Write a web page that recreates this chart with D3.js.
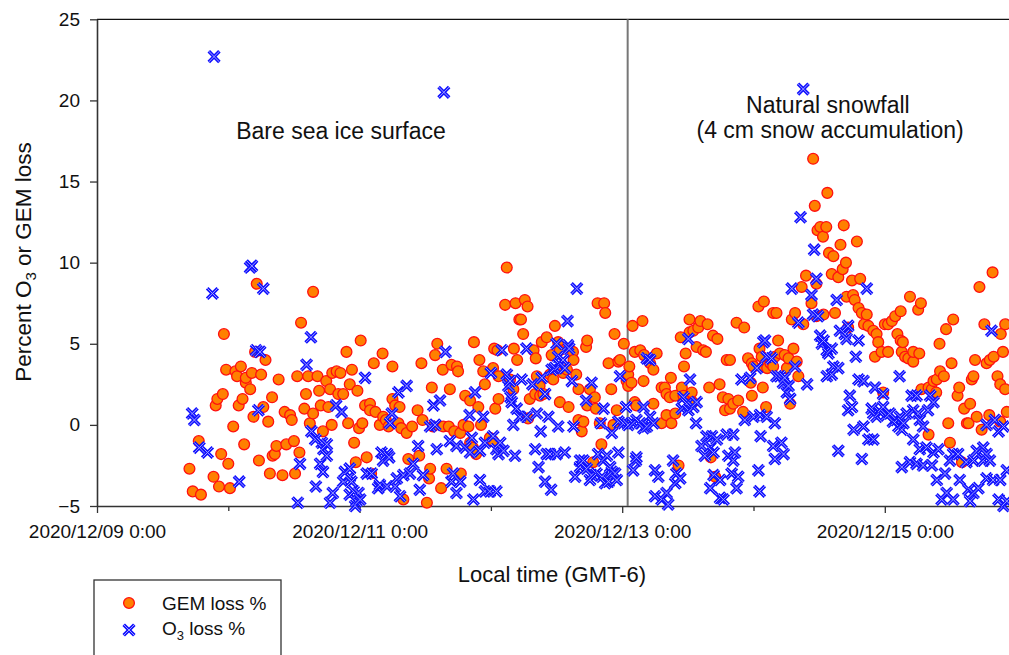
<!DOCTYPE html>
<html>
<head>
<meta charset="utf-8">
<script src="https://cdn.jsdelivr.net/npm/d3@7"></script>
<style>
  body { margin: 0; background: #fff; }
  svg { display: block; font-family: "Liberation Sans", Arial, sans-serif; }
</style>
</head>
<body>
<svg id="chart" width="1009" height="655"></svg>
<script>
// hours since 2020/12/09 0:00, percent loss
const gemLoss = [
  [16.9,-2.7],[17.5,-4.1],[18.6,-1.0],[19.0,-4.3],[21.3,-3.2],[21.7,1.2],[22.0,1.6],[22.3,-3.8],[22.7,-1.8],[23.0,1.9],
  [23.2,5.6],[23.6,3.4],[24.0,-2.4],[24.3,-3.9],[24.9,-0.1],[25.3,3.3],[25.6,3.0],[25.9,1.2],[26.3,3.6],[26.6,1.6],
  [26.9,-1.2],[27.2,2.6],[27.2,2.9],[28.0,2.2],[28.3,3.2],[28.6,0.5],[28.9,4.5],[29.2,8.7],[29.6,-2.2],[30.0,3.1],
  [30.4,1.1],[30.8,4.0],[31.3,0.2],[31.6,-3.0],[32.0,1.7],[32.1,-1.9],[32.5,-1.8],[32.8,-1.3],[33.2,2.8],[33.9,-3.1],
  [34.3,0.8],[34.6,-1.2],[35.3,0.6],[35.6,0.3],[36.0,-1.0],[36.2,-3.0],[36.6,3.0],[37.0,-1.7],[37.3,6.3],[37.9,1.0],
  [38.2,1.9],[38.6,3.0],[38.9,0.1],[39.5,0.7],[39.5,8.2],[40.3,3.0],[40.6,2.1],[40.9,1.2],[41.3,-0.4],[41.9,2.7],
  [42.3,1.1],[42.6,2.2],[42.9,0.0],[43.0,3.2],[43.8,3.3],[44.1,1.9],[44.5,3.2],[45.0,1.9],[45.6,4.5],[45.9,0.1],
  [46.2,2.5],[46.6,3.4],[47.0,-1.1],[47.3,-2.3],[47.6,2.1],[47.9,-0.2],[48.2,5.2],[48.5,0.1],[49.0,1.2],[49.3,-2.0],
  [49.9,1.3],[49.9,0.9],[50.1,-3.0],[50.6,3.8],[50.9,0.8],[51.7,0.0],[52.2,4.4],[52.3,0.5],[52.8,0.3],[53.3,-0.1],
  [54.0,3.6],[54.0,1.6],[54.5,1.2],[55.1,0.1],[55.3,1.1],[55.6,-0.2],[56.0,-4.6],[56.6,-0.5],[56.9,-2.1],[57.6,-0.1],
  [58.6,0.9],[58.9,-1.9],[59.3,3.8],[59.5,0.3],[60.3,-4.8],[60.7,-3.3],[60.9,-2.7],[61.2,2.3],[61.4,-0.1],[61.8,4.3],
  [62.2,5.0],[62.9,-3.9],[63.2,3.4],[63.3,-0.1],[63.9,-2.7],[64.3,-0.1],[64.5,2.2],[64.8,3.7],[65.3,-0.4],[65.8,3.6],
  [66.0,3.3],[66.4,-0.5],[66.5,-3.0],[67.0,0.0],[67.3,1.8],[67.9,-0.1],[68.2,1.5],[68.2,-1.1],[68.7,-1.4],[68.9,5.1],
  [69.3,-1.8],[69.7,1.1],[69.9,4.0],[70.2,0.0],[70.6,3.3],[70.9,2.5],[71.8,-0.8],[72.4,-1.0],[72.4,3.5],[72.6,4.7],
  [72.8,1.0],[73.2,4.6],[73.4,3.0],[73.4,1.6],[74.6,7.4],[74.9,9.7],[75.5,2.8],[76.1,2.2],[76.2,4.7],[76.5,7.5],
  [76.8,4.0],[77.2,6.5],[77.5,6.5],[77.9,5.6],[78.2,7.7],[78.7,7.3],[78.8,0.4],[79.1,1.6],[79.8,4.6],[80.1,1.9],
  [80.2,4.1],[80.4,3.0],[80.9,2.4],[81.0,1.8],[81.3,5.1],[81.6,1.9],[82.2,5.4],[82.8,3.1],[83.1,4.3],[83.4,2.8],
  [83.7,6.1],[84.3,5.1],[84.6,4.6],[84.6,1.4],[85.2,3.2],[85.9,3.4],[86.2,1.1],[87.0,4.5],[87.1,4.0],[87.6,3.1],
  [88.0,2.2],[88.0,0.3],[88.6,-0.4],[88.9,0.2],[89.4,4.8],[89.6,5.2],[89.6,1.2],[90.1,2.2],[90.7,-2.3],[91.0,1.7],
  [91.2,1.0],[91.5,7.5],[91.9,0.1],[92.2,-1.2],[92.7,7.5],[92.9,6.9],[93.5,3.8],[94.0,2.2],[94.4,0.0],[94.6,5.6],
  [95.0,0.9],[95.3,3.9],[95.6,4.0],[96.3,5.0],[96.8,2.7],[97.1,3.1],[97.1,2.4],[97.3,3.6],[97.7,2.6],[97.9,6.1],
  [98.3,4.5],[98.3,1.4],[98.6,1.2],[99.3,4.6],[99.7,6.4],[99.9,2.7],[100.0,4.3],[101.1,3.8],[101.7,3.4],[101.7,1.3],
  [102.3,4.4],[103.2,2.3],[103.2,0.1],[103.8,2.3],[104.1,1.9],[104.1,0.6],[104.7,1.7],[104.9,2.9],[105.0,0.1],[105.7,1.8],
  [105.7,0.7],[106.3,-2.5],[106.7,5.4],[106.9,2.3],[107.2,1.8],[107.3,3.6],[107.6,4.4],[108.3,5.7],[108.3,6.5],[108.7,2.0],
  [108.9,1.4],[109.0,5.8],[109.6,4.8],[109.9,6.0],[110.3,6.4],[110.8,4.6],[111.3,4.5],[111.6,6.2],[111.9,2.3],[112.2,-2.0],
  [112.6,5.5],[113.0,-3.2],[113.4,5.3],[113.8,2.5],[114.4,1.7],[114.8,0.9],[115.1,4.0],[115.4,1.6],[115.7,4.0],[115.7,1.0],
  [116.3,1.3],[116.9,6.3],[117.2,1.5],[118.1,0.8],[118.3,6.0],[119.0,4.1],[119.5,2.6],[119.7,3.8],[119.7,1.8],[120.0,3.6],
  [120.9,7.3],[121.1,4.7],[121.5,4.2],[121.7,2.3],[121.8,3.6],[121.9,7.6],[122.3,1.1],[122.5,3.5],[123.1,3.8],[123.6,3.6],
  [123.6,6.9],[123.9,4.2],[124.2,6.9],[124.5,5.2],[124.8,4.4],[125.7,4.3],[126.1,3.5],[126.4,4.1],[126.7,1.3],[127.0,6.5],
  [127.3,4.7],[127.6,6.9],[127.9,3.9],[128.2,3.0],[128.8,8.5],[129.1,6.2],[129.6,9.2],[130.6,7.5],[130.9,16.4],[131.2,13.5],
  [131.5,8.7],[131.5,6.7],[131.7,12.0],[132.2,12.2],[132.7,11.6],[132.8,6.8],[133.3,12.2],[133.5,14.3],[133.8,10.6],[134.3,9.3],
  [134.6,10.4],[134.9,6.9],[135.5,9.1],[135.9,11.1],[136.3,9.6],[136.5,12.3],[136.9,10.0],[137.0,7.9],[137.3,6.0],[138.0,8.9],
  [138.2,8.0],[138.5,7.7],[138.9,11.3],[139.2,7.2],[139.5,9.0],[139.8,6.9],[140.2,6.2],[140.7,6.8],[141.0,6.1],[141.9,5.8],
  [142.2,4.2],[142.5,5.6],[142.8,5.1],[143.4,4.5],[143.7,2.0],[144.0,6.2],[144.6,6.2],[144.6,4.5],[145.3,6.4],[145.9,6.7],
  [146.3,5.6],[146.9,7.0],[146.9,5.2],[147.1,4.5],[147.3,5.1],[147.7,4.2],[148.3,4.1],[148.6,7.9],[149.2,3.9],[149.2,4.5],
  [150.1,7.1],[150.3,4.4],[150.6,7.5],[150.7,2.2],[152.0,2.3],[152.0,-0.6],[152.6,2.2],[152.9,2.7],[153.4,2.0],[153.5,2.8],
  [154.0,5.0],[154.1,3.3],[154.8,3.0],[155.2,5.9],[155.6,0.1],[155.9,-1.1],[156.2,3.8],[156.5,6.5],[157.3,1.8],[157.6,2.3],
  [158.1,-2.3],[158.5,1.0],[159.0,0.1],[159.3,0.1],[159.6,1.3],[159.9,2.8],[160.2,3.0],[160.5,4.0],[160.8,0.5],[161.3,8.5],
  [161.7,-0.3],[162.2,6.2],[162.6,3.8],[163.1,0.6],[163.2,4.0],[163.7,9.4],[163.9,4.2],[164.6,3.0],[165.1,2.5],[165.1,0.2],
  [165.2,5.6],[165.6,4.5],[166.0,6.2],[166.0,2.2],[166.3,0.8]
]

const o3Loss = [
  [17.4,0.7],[17.8,0.3],[18.7,-1.4],[20.2,-1.7],[21.1,8.1],[21.4,22.7],[26.0,-3.5],[28.0,9.7],[28.3,9.8],[29.1,4.6],
  [29.5,0.9],[29.8,4.5],[30.4,8.4],[36.7,-4.8],[37.1,-2.4],[38.3,3.7],[39.1,5.4],[39.2,-0.4],[39.9,-0.9],[40.0,-3.8],
  [40.8,-2.4],[41.1,-1.1],[41.3,-2.9],[41.4,-1.5],[42.0,-1.2],[42.0,-1.9],[42.6,-4.8],[43.1,-4.2],[43.7,1.2],[44.7,0.8],
  [45.0,-3.5],[45.3,-2.9],[46.2,-3.2],[46.2,-2.7],[46.2,-4.3],[46.5,-3.5],[46.9,-4.1],[47.2,-5.0],[47.4,-4.7],[47.8,-4.2],
  [48.1,-4.6],[49.0,2.9],[49.3,-3.0],[50.2,-3.0],[51.4,-3.9],[51.7,-3.7],[52.0,-1.7],[52.3,-2.2],[53.0,-1.8],[53.0,-3.8],
  [53.4,-2.0],[53.6,0.1],[53.9,0.7],[54.5,-3.8],[54.8,-3.3],[55.1,2.0],[55.4,-4.4],[56.0,-3.1],[56.6,2.4],[57.2,-3.0],
  [57.8,-2.4],[58.7,-1.3],[59.0,-4.0],[59.6,-3.1],[60.9,-0.1],[61.5,1.2],[61.8,0.0],[62.1,-1.5],[62.7,1.5],[63.4,20.5],
  [63.7,4.5],[64.5,-1.0],[64.8,-3.5],[65.1,-3.0],[65.7,-1.3],[65.7,-4.2],[66.4,-3.5],[67.3,-1.4],[68.1,0.6],[68.2,-1.7],
  [68.5,-0.8],[68.8,-4.6],[69.1,2.0],[70.0,-1.6],[70.0,-3.4],[70.6,0.5],[70.9,-1.1],[70.9,-4.1],[71.8,-4.1],[72.0,3.2],
  [72.4,-0.7],[73.0,-1.5],[73.0,-4.1],[73.4,-1.8],[73.7,-1.1],[74.0,4.6],[74.3,-1.6],[74.9,3.1],[75.2,2.4],[75.5,2.7],
  [75.6,1.7],[75.8,1.4],[76.1,0.0],[76.4,-1.9],[76.7,1.0],[77.3,0.5],[77.6,2.8],[78.5,0.5],[78.5,4.7],[79.6,2.5],
  [80.1,-1.5],[80.4,0.7],[80.7,-2.6],[81.1,-0.4],[81.3,2.9],[81.9,1.9],[81.9,-3.5],[82.2,-1.8],[82.5,0.5],[82.8,-1.8],
  [83.0,-4.0],[83.1,3.4],[83.7,3.5],[84.0,5.0],[84.0,-1.8],[84.3,4.2],[84.3,-0.1],[84.6,3.7],[85.2,4.0],[85.5,3.5],
  [85.5,-1.7],[86.0,6.4],[86.1,4.9],[86.3,4.7],[86.8,2.7],[87.1,-0.1],[87.4,-3.2],[87.7,8.4],[88.3,-2.2],[88.3,-2.6],
  [88.9,-2.2],[89.4,1.5],[89.5,-2.7],[90.1,-3.4],[90.4,2.6],[90.4,-3.1],[91.3,-3.0],[91.6,-1.8],[92.1,0.1],[92.3,-3.2],
  [92.5,-2.2],[92.6,1.0],[92.9,-3.6],[93.2,-1.9],[93.5,-3.5],[93.8,-2.6],[94.1,-0.5],[94.1,-2.9],[94.7,-3.0],[95.0,-3.4],
  [95.3,0.2],[95.3,-1.7],[95.6,3.0],[96.2,0.1],[96.7,1.1],[97.1,0.0],[98.0,0.1],[98.0,-2.8],[98.5,-2.2],[98.6,0.3],
  [98.6,-2.0],[99.3,0.1],[99.9,-0.2],[99.9,1.1],[100.5,-0.1],[100.5,4.1],[101.1,0.5],[101.1,4.0],[101.7,0.1],[102.0,-2.8],
  [102.0,-4.4],[102.6,-3.2],[103.2,-4.6],[104.1,-4.2],[104.4,-4.9],[105.3,-2.2],[105.7,-3.6],[105.9,-3.0],[106.6,-3.3],[106.9,1.0],
  [107.2,1.7],[107.8,1.3],[108.1,5.3],[108.1,0.9],[108.4,2.8],[109.0,1.1],[109.5,0.1],[109.6,1.4],[110.5,-1.3],[111.1,-1.9],
  [111.4,-0.7],[112.1,-1.4],[112.1,-3.9],[112.4,-0.7],[112.7,-1.7],[112.7,-3.1],[113.3,-0.9],[113.9,-3.4],[113.9,-4.5],[114.5,-4.6],
  [115.1,-0.6],[115.4,-1.9],[116.0,-3.0],[116.3,-0.6],[116.3,-2.2],[116.6,-1.7],[116.9,-3.9],[117.2,-3.2],[117.8,2.8],[118.4,0.3],
  [119.4,2.9],[120.0,0.5],[120.6,3.5],[120.9,-2.8],[121.1,-4.1],[121.2,0.6],[121.3,-0.7],[121.8,5.1],[122.1,5.2],[122.4,4.2],
  [122.4,0.5],[123.3,4.1],[123.6,-1.3],[123.9,0.1],[123.9,-2.1],[124.2,3.0],[124.8,3.0],[125.1,-1.1],[125.4,2.6],[125.5,-1.8],
  [125.7,2.9],[126.1,2.0],[126.4,2.4],[126.7,1.6],[127.0,8.4],[127.6,3.6],[128.2,6.3],[128.6,12.8],[129.1,20.7],[129.8,2.5],
  [130.6,8.0],[130.9,6.8],[131.1,10.8],[131.5,9.0],[131.8,6.7],[132.2,5.5],[132.5,5.0],[132.8,5.2],[133.4,4.6],[133.4,3.0],
  [133.7,4.4],[134.3,4.7],[134.3,3.1],[134.6,3.6],[135.2,7.7],[135.5,3.5],[135.5,-1.6],[135.8,5.8],[136.7,5.6],[137.0,5.3],
  [137.3,6.1],[137.3,0.9],[137.6,1.8],[138.0,1.1],[138.3,-0.3],[138.7,4.2],[139.2,5.2],[139.2,2.8],[139.8,-2.1],[140.1,2.7],
  [140.1,-0.1],[140.7,8.4],[141.0,-0.9],[141.6,1.0],[141.9,0.7],[141.9,-0.9],[142.2,2.3],[142.5,0.5],[143.1,0.8],[143.7,1.1],
  [143.7,1.9],[144.3,0.6],[144.9,0.7],[145.5,0.2],[146.1,0.3],[146.5,-0.1],[146.7,3.0],[146.8,0.5],[147.1,-0.3],[147.1,-2.6],
  [147.4,0.1],[148.0,0.7],[148.6,-2.3],[148.9,1.8],[149.2,0.9],[149.2,-0.9],[149.8,1.8],[149.8,-2.4],[150.1,0.7],[150.4,0.3],
  [150.4,-1.5],[151.0,-0.1],[151.0,-2.5],[151.6,-1.4],[151.9,0.9],[152.3,1.8],[152.6,-2.5],[152.9,1.4],[152.9,-1.7],[153.5,-3.4],
  [153.8,-1.5],[154.4,-4.6],[155.0,-3.0],[155.3,-4.2],[155.9,-2.2],[156.5,-1.8],[156.5,-4.6],[157.4,-1.8],[157.7,-3.4],[158.9,-2.3],
  [159.3,-4.0],[159.6,-4.7],[160.2,-2.2],[160.2,-4.2],[160.8,-1.6],[161.1,-3.9],[162.0,-1.4],[162.0,-2.2],[162.6,-1.8],[162.6,-3.3],
  [162.6,0.0],[163.2,-2.2],[163.5,5.8],[163.8,-3.4],[164.1,0.3],[164.8,-0.4],[164.8,-4.6],[165.1,-3.4],[165.7,-0.1],[165.7,-5.0],
  [166.3,-2.8],[166.3,-4.7]
]

const yTicks = [-5, 0, 5, 10, 15, 20, 25]
const startTime = new Date(2020, 11, 9, 0, 0)
const endTime = new Date(2020, 11, 17, 0, 0)
const snowfallStart = new Date(2020, 11, 13, 1, 0)
const annotations = [
  {text: "Bare sea ice surface", hour: 44.6, value: 17.6},
  {text: "Natural snowfall", hour: 133.6, value: 19.2},
  {text: "(4 cm snow accumulation)", hour: 134.0, value: 17.7}
]
const legendItems = ["GEM loss %", "O3 loss %"]

const svg = d3.select("#chart")
const plotLeft = 97, plotTop = 19.3, plotBottom = 506
const dayWidth = 131.3

const hourToDate = h => new Date(startTime.getTime() + h * 3600e3)

const x = d3.scaleTime()
    .domain([startTime, endTime])
    .range([plotLeft, plotLeft + 8 * dayWidth])
const y = d3.scaleLinear()
    .domain([-5, 25])
    .range([plotBottom, plotTop])

const fmt = d3.timeFormat("%Y/%m/%d %-H:%M")

// top border
svg.append("line")
    .attr("x1", plotLeft).attr("x2", 1009)
    .attr("y1", plotTop).attr("y2", plotTop)
    .attr("stroke", "#111").attr("stroke-width", 1.3)

// x axis
const days = d3.timeDay.range(startTime, endTime)
const xAxis = svg.append("g")
    .attr("transform", `translate(0,${plotBottom})`)
    .call(d3.axisBottom(x)
        .tickValues(days)
        .tickSize(7)
        .tickSizeOuter(0)
        .tickPadding(12)
        .tickFormat((d, i) => i % 2 === 0 ? fmt(d) : ""))
xAxis.select(".domain").attr("stroke", "#333").attr("stroke-width", 1.6)
xAxis.selectAll(".tick line").attr("stroke", "#333").attr("stroke-width", 1.3)
    .attr("y2", (d, i) => i % 2 === 0 ? 7 : 5)
xAxis.selectAll(".tick text")
    .attr("font-size", 19).attr("fill", "#111")
    .attr("font-family", "Liberation Sans, Arial, sans-serif")

// y axis
const yAxis = svg.append("g")
    .attr("transform", `translate(${plotLeft},0)`)
    .call(d3.axisLeft(y)
        .tickValues(yTicks)
        .tickSize(7)
        .tickSizeOuter(0)
        .tickPadding(10))
yAxis.select(".domain").attr("stroke", "#333").attr("stroke-width", 1.6)
yAxis.selectAll(".tick line").attr("stroke", "#333").attr("stroke-width", 1.3)
yAxis.selectAll(".tick text")
    .attr("font-size", 19).attr("fill", "#111")
    .attr("font-family", "Liberation Sans, Arial, sans-serif")

// snowfall marker line
svg.append("line")
    .attr("x1", x(snowfallStart)).attr("x2", x(snowfallStart))
    .attr("y1", plotTop).attr("y2", plotBottom)
    .attr("stroke", "#777").attr("stroke-width", 2)

// markers
const crossPath = "M-5.3,-5.3L5.3,5.3M-5.3,5.3L5.3,-5.3"

function drawCross(sel) {
    sel.append("path").attr("d", crossPath)
        .attr("stroke", "#1010ff").attr("stroke-width", 3.6).attr("fill", "none")
    sel.append("path").attr("d", crossPath)
        .attr("stroke", "#a0a0ff").attr("stroke-width", 1).attr("fill", "none")
}

svg.append("g").selectAll("circle")
    .data(gemLoss)
    .join("circle")
    .attr("cx", d => x(hourToDate(d[0])))
    .attr("cy", d => y(d[1]))
    .attr("r", 5.4)
    .attr("fill", "#ff8000")
    .attr("stroke", "#ff1010")
    .attr("stroke-width", 1.3)

svg.append("g").selectAll("g")
    .data(o3Loss)
    .join("g")
    .attr("transform", d => `translate(${x(hourToDate(d[0]))},${y(d[1])})`)
    .call(drawCross)

// annotations
svg.selectAll(".note")
    .data(annotations)
    .join("text")
    .attr("class", "note")
    .attr("x", d => x(hourToDate(d.hour)))
    .attr("y", d => y(d.value))
    .attr("text-anchor", "middle")
    .attr("font-size", 23)
    .attr("fill", "#111")
    .text(d => d.text)

// axis titles
svg.append("text")
    .attr("x", 552).attr("y", 582)
    .attr("text-anchor", "middle")
    .attr("font-size", 22)
    .attr("fill", "#111")
    .text("Local time (GMT-6)")

const yTitle = svg.append("text")
    .attr("transform", "translate(31,262) rotate(-90)")
    .attr("text-anchor", "middle")
    .attr("font-size", 22.5)
    .attr("fill", "#111")
yTitle.append("tspan").text("Percent O")
yTitle.append("tspan").text("3").attr("font-size", 15).attr("dy", 5)
yTitle.append("tspan").text(" or GEM loss").attr("dy", -5)

// legend
const legend = svg.append("g")
legend.append("rect")
    .attr("x", 94).attr("y", 580)
    .attr("width", 187).attr("height", 100)
    .attr("fill", "#fff").attr("stroke", "#333").attr("stroke-width", 1.3)

legend.append("circle")
    .attr("cx", 129).attr("cy", 603).attr("r", 5.4)
    .attr("fill", "#ff8000").attr("stroke", "#ff1010").attr("stroke-width", 1.3)
legend.append("text")
    .attr("x", 162).attr("y", 610)
    .attr("font-size", 19).attr("fill", "#111")
    .text(legendItems[0])

legend.append("g")
    .attr("transform", "translate(129,630)")
    .call(drawCross)
const o3Label = legend.append("text")
    .attr("x", 162).attr("y", 635)
    .attr("font-size", 19).attr("fill", "#111")
o3Label.append("tspan").text("O")
o3Label.append("tspan").text("3").attr("font-size", 13).attr("dy", 5)
o3Label.append("tspan").text(" loss %").attr("dy", -5)
</script>
</body>
</html>
